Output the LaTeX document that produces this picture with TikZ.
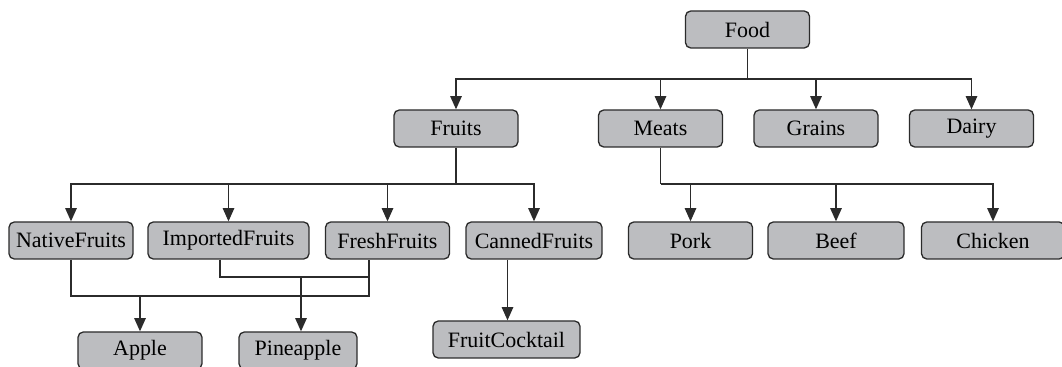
\documentclass[tikz,border=0pt]{standalone}
\usepackage{fontspec}
\setmainfont{Liberation Serif}
\usepackage{xcolor}
\definecolor{boxgray}{HTML}{bcbdc0}
\definecolor{edge}{HTML}{2b2b2b}
\usepackage{tikz}
\usetikzlibrary{
  arrows.meta,
  positioning,
  calc
}

\begin{document}
\begin{tikzpicture}[
  x=0.02cm, y=-0.02cm,
  box/.style={rectangle, rounded corners=3pt, draw=edge, fill=boxgray, line width=0.75pt, minimum width=2.48cm, minimum height=0.74cm, inner sep=1pt, font=\fontsize{12.5}{14}\selectfont},
  ln/.style={line width=0.8pt, edge},
  arr/.style={-{Triangle[length=7.5pt, width=6.5pt]}, line width=0.8pt, edge},
]
\useasboundingbox (0,0) rectangle (1062,367);

\node[box] (food) at (747.5,29.5) {Food};

\node[box] (fruits) at (456,128.5) {Fruits};
\node[box] (meats) at (660.5,128.5) {Meats};
\node[box] (grains) at (816,128.5) {Grains};
\node[box] (dairy) at (971.5,128.5) {Dairy};

\node[box] (native) at (71,240.5) {NativeFruits};
\node[box, minimum width=3.22cm] (imported) at (228.5,240.5) {ImportedFruits};
\node[box] (fresh) at (387.5,240.5) {FreshFruits};
\node[box, minimum width=2.72cm] (canned) at (534,240.5) {CannedFruits};
\node[box] (pork) at (690.5,240.5) {Pork};
\node[box, minimum width=2.72cm] (beef) at (836,240.5) {Beef};
\node[box, minimum width=2.86cm] (chicken) at (993,240.5) {Chicken};

\node[box] (apple) at (140,350.5) {Apple};
\node[box, minimum width=2.36cm] (pine) at (298,350.5) {Pineapple};
\node[box, minimum width=2.94cm] (cocktail) at (506.5,339.5) {FruitCocktail};

\coordinate (foodbus) at (747.5,79);
\coordinate (fruitbus) at (456,184);
\coordinate (meatbus) at (660.5,184);
\coordinate (freshdown) at ([xshift=-0.37cm]fresh.south);
\coordinate (applejoin) at (140,296);
\coordinate (pinejoin) at (301,277);

\draw[ln] (food.south) -- (foodbus);
\foreach \n in {fruits,meats,grains,dairy}
  \draw[arr] (foodbus) -| (\n.north);

\draw[ln] (fruits.south) -- (fruitbus);
\foreach \n in {native,imported,fresh,canned}
  \draw[arr] (fruitbus) -| (\n.north);

\draw[ln] (meats.south) -- (meatbus);
\foreach \n in {pork,beef,chicken}
  \draw[arr] (meatbus) -| (\n.north);

\draw[ln] (native.south) |- (freshdown |- applejoin) -- (freshdown);
\draw[ln] ([xshift=-0.17cm]imported.south) |- (freshdown |- pinejoin);
\draw[arr] (applejoin) -- (applejoin |- apple.north);
\draw[arr] (pinejoin) -- (pinejoin |- pine.north);
\draw[arr] ([xshift=-0.53cm]canned.south) -- ([xshift=-0.53cm]canned.south |- cocktail.north);

\end{tikzpicture}
\end{document}
